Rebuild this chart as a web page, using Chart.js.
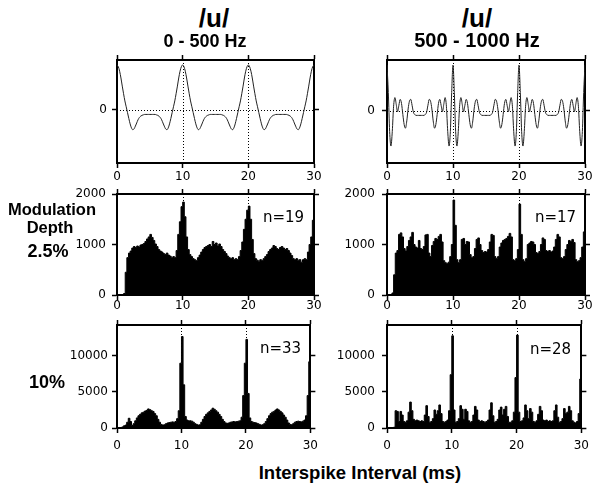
<!DOCTYPE html>
<html>
<head>
<meta charset="utf-8">
<script src="https://cdn.jsdelivr.net/npm/chart.js@4.4.1/dist/chart.umd.min.js"></script>
<style>
  html, body { margin: 0; padding: 0; background: #fff; }
  body { width: 600px; height: 488px; position: relative; overflow: hidden; font-family: "Liberation Sans", Arial, sans-serif; }
  canvas { position: absolute; }
  .t { position: absolute; white-space: nowrap; line-height: 1; color: #000; z-index: 2; }
  .b { font-weight: bold; }
  .c { transform: translateX(-50%); }
  .n { font-family: "DejaVu Sans", sans-serif; font-size: 15px; }
</style>
</head>
<body>
<canvas id="p1"></canvas>
<canvas id="p2"></canvas>
<canvas id="p3"></canvas>
<canvas id="p4"></canvas>
<canvas id="p5"></canvas>
<canvas id="p6"></canvas>

<div class="t b c" style="left:214px; top:5px; font-size:26px">/u/</div>
<div class="t b c" style="left:205px; top:32px; font-size:18px">0 - 500 Hz</div>
<div class="t b c" style="left:477px; top:5px; font-size:26px">/u/</div>
<div class="t b c" style="left:477px; top:30px; font-size:20px">500 - 1000 Hz</div>

<div class="t b c" style="left:52px; top:201px; font-size:16.5px">Modulation</div>
<div class="t b c" style="left:50px; top:219px; font-size:16.5px">Depth</div>
<div class="t b c" style="left:48px; top:242px; font-size:18px">2.5%</div>
<div class="t b c" style="left:47px; top:373px; font-size:18px">10%</div>

<div class="t n" style="left:263px; top:210px">n=19</div>
<div class="t n" style="left:535px; top:210px">n=17</div>
<div class="t n" style="left:260px; top:341px">n=33</div>
<div class="t n" style="left:530px; top:342px">n=28</div>

<div class="t b c" style="left:360px; top:464px; font-size:18.5px">Interspike Interval (ms)</div>

<script>
// tick labels
const xTickVals = [0, 10, 20, 30];
const waveTicks = [0];
const lowTicks = [0, 1000, 2000];
const highTicks = [0, 5000, 10000];

// autocorrelation waveforms, one value every 0.2 ms from 0 to 30 ms
const STEP = 0.2;
const wave0to500 = [
  1.0, 0.96, 0.86, 0.71, 0.53, 0.36, 0.2, 0.07, -0.06, -0.19, -0.31, -0.4, -0.44, -0.42, -0.36, -0.29, -0.22, -0.17, -0.14, -0.12, -0.11, -0.1, -0.1, -0.1, -0.1, -0.1,
  -0.1, -0.1, -0.1, -0.1, -0.11, -0.12, -0.14, -0.17, -0.22, -0.29, -0.36, -0.42, -0.44, -0.4, -0.31, -0.19, -0.06, 0.07, 0.2, 0.36, 0.53, 0.71, 0.86, 0.96, 1.0,
  0.96, 0.86, 0.71, 0.53, 0.36, 0.2, 0.07, -0.06, -0.19, -0.31, -0.4, -0.44, -0.42, -0.36, -0.29, -0.22, -0.17, -0.14, -0.12, -0.11, -0.1, -0.1, -0.1, -0.1, -0.1,
  -0.1, -0.1, -0.1, -0.1, -0.11, -0.12, -0.14, -0.17, -0.22, -0.29, -0.36, -0.42, -0.44, -0.4, -0.31, -0.19, -0.06, 0.07, 0.2, 0.36, 0.53, 0.71, 0.86, 0.96, 1.0,
  0.96, 0.86, 0.71, 0.53, 0.36, 0.2, 0.07, -0.06, -0.19, -0.31, -0.4, -0.44, -0.42, -0.36, -0.29, -0.22, -0.17, -0.14, -0.12, -0.11, -0.1, -0.1, -0.1, -0.1, -0.1,
  -0.1, -0.1, -0.1, -0.1, -0.11, -0.12, -0.14, -0.17, -0.22, -0.29, -0.36, -0.42, -0.44, -0.4, -0.31, -0.19, -0.06, 0.07, 0.2, 0.36, 0.53, 0.71, 0.86, 0.96, 1.0
];
const wave500to1000 = [
  1.0, 0.4, -0.45, -0.77, -0.45, 0.1, 0.29, 0.14, -0.02, 0.12, 0.25, 0.16, -0.08, -0.3, -0.38, -0.22, 0.04, 0.21, 0.25, 0.12, -0.03, -0.08, -0.1, -0.1, -0.1, -0.1,
  -0.1, -0.1, -0.1, -0.08, -0.03, 0.12, 0.25, 0.21, 0.04, -0.22, -0.38, -0.3, -0.08, 0.16, 0.25, 0.12, -0.02, 0.14, 0.29, 0.1, -0.45, -0.77, -0.45, 0.4, 1.0,
  0.4, -0.45, -0.77, -0.45, 0.1, 0.29, 0.14, -0.02, 0.12, 0.25, 0.16, -0.08, -0.3, -0.38, -0.22, 0.04, 0.21, 0.25, 0.12, -0.03, -0.08, -0.1, -0.1, -0.1, -0.1,
  -0.1, -0.1, -0.1, -0.08, -0.03, 0.12, 0.25, 0.21, 0.04, -0.22, -0.38, -0.3, -0.08, 0.16, 0.25, 0.12, -0.02, 0.14, 0.29, 0.1, -0.45, -0.77, -0.45, 0.4, 1.0,
  0.4, -0.45, -0.77, -0.45, 0.1, 0.29, 0.14, -0.02, 0.12, 0.25, 0.16, -0.08, -0.3, -0.38, -0.22, 0.04, 0.21, 0.25, 0.12, -0.03, -0.08, -0.1, -0.1, -0.1, -0.1,
  -0.1, -0.1, -0.1, -0.08, -0.03, 0.12, 0.25, 0.21, 0.04, -0.22, -0.38, -0.3, -0.08, 0.16, 0.25, 0.12, -0.02, 0.14, 0.29, 0.1, -0.45, -0.77, -0.45, 0.4, 1.0
];

// interspike interval histograms, 0.25 ms bins (one row = 2 ms)
const BIN = 0.25;
const isi25Low = [
  0, 0, 0, 0, 30, 450, 740, 830,
  870, 930, 960, 940, 970, 950, 990, 1000,
  1020, 1060, 1110, 1150, 1200, 1140, 1080, 1010,
  960, 900, 870, 850, 820, 800, 830, 790,
  770, 740, 760, 740, 880, 1200, 1450, 1750,
  1840, 1550, 1150, 900, 800, 760, 720, 700,
  680, 740, 790, 850, 900, 940, 960, 980,
  1000, 960, 1060, 1000, 1030, 970, 1010, 960,
  900, 860, 820, 770, 740, 720, 740, 700,
  720, 700, 760, 880, 1050, 1300, 1500, 1680,
  1760, 1500, 1100, 820, 720, 690, 670, 700,
  680, 720, 760, 800, 860, 900, 930, 980,
  960, 920, 900, 940, 960, 930, 900, 920,
  880, 830, 780, 720, 700, 720, 690, 700,
  650, 700, 720, 700, 850, 1000, 1150, 1480
];
const isi25High = [
  0, 0, 0, 40, 400, 830, 880, 1200,
  1230, 1150, 920, 870, 960, 1080, 1150, 1240,
  1000, 950, 930, 1080, 920, 900, 960, 1190,
  1200, 830, 760, 980, 1060, 1120, 1100, 1160,
  1200, 1050, 680, 640, 620, 650, 760, 1000,
  1880, 1380, 700, 640, 700, 1100, 1120, 1000,
  1060, 1050, 800, 740, 760, 920, 1100, 1130,
  1000, 880, 840, 860, 850, 900, 1050, 1200,
  1180, 760, 720, 760, 950, 1030, 1080, 1100,
  1120, 1160, 1220, 1150, 700, 680, 720, 900,
  1800, 1200, 700, 660, 720, 1000, 1030, 1060,
  1050, 1000, 840, 820, 860, 1000, 1130, 1100,
  880, 860, 880, 850, 870, 950, 1100, 1200,
  1150, 740, 720, 760, 900, 1000, 1080, 1060,
  1100, 1040, 700, 660, 680, 740, 950, 1250
];
const isi10Low = [
  0, 0, 50, 150, 300, 400, 800, 1350,
  900, 350, 600, 1000, 1400, 1700, 1900, 2100,
  2200, 2350, 2450, 2650, 2550, 2400, 2300, 2000,
  1700, 1200, 800, 500, 400, 450, 600, 700,
  750, 800, 850, 800, 900, 1300, 2400, 9000,
  12700, 6000, 1600, 1100, 1000, 1000, 950, 800,
  600, 500, 400, 450, 800, 1200, 1600, 1900,
  2100, 2300, 2500, 2750, 2600, 2400, 2200, 1900,
  1600, 1200, 900, 700, 650, 700, 800, 850,
  900, 850, 900, 950, 1000, 1500, 4500, 9000,
  12300, 4800, 1400, 900, 800, 750, 700, 600,
  500, 400, 450, 600, 900, 1300, 1700, 2000,
  2200, 2300, 2500, 2650, 2500, 2300, 2100, 1800,
  1500, 1100, 700, 500, 450, 600, 800, 900,
  950, 900, 850, 950, 1100, 1700, 4500, 9200
];
const isi10High = [
  0, 0, 0, 0, 100, 2400, 2300, 900,
  2300, 1800, 900, 800, 1000, 2200, 3600, 2400,
  1200, 1000, 1100, 1000, 900, 1000, 900, 1800,
  3100, 1600, 800, 900, 1300, 2500, 1900, 2400,
  3200, 2000, 900, 800, 900, 1100, 2400, 7400,
  12800, 2500, 800, 900, 1300, 3100, 2600, 1200,
  2600, 2300, 1000, 800, 900, 1800, 3000, 2500,
  1100, 900, 1000, 900, 800, 900, 1100, 2500,
  3500, 1700, 800, 900, 1200, 2500, 2900, 1800,
  2600, 3000, 1600, 800, 800, 1000, 2200, 7000,
  12900, 2200, 900, 1000, 1400, 3200, 2400, 1300,
  2700, 2200, 900, 800, 1000, 1900, 3000, 2400,
  1100, 1000, 1100, 900, 1000, 900, 1000, 2400,
  3200, 1500, 800, 900, 1300, 2700, 2000, 2200,
  3000, 2400, 1000, 800, 700, 900, 2000, 6800
];

const lagMs = wave0to500.map((_, i) => i * STEP);
// right edge of each bin; with stepped 'after' each count fills [edge - BIN, edge]
const binEdge = isi25Low.map((_, i) => (i + 1) * BIN);

// room around each plot box for the axes (top room also holds the y label overhang)
const YW = 55, RW = 10, TW = 18, BW = 26;

Chart.defaults.font.family = '"DejaVu Sans", sans-serif';
Chart.defaults.font.size = 12;
Chart.defaults.color = '#000';
Chart.defaults.animation = false;

const setTicks = (vals) => (s) => { s.ticks = vals.map((v) => ({ value: v })); };
const fixSize = (px) => (s) => { if (s.isHorizontal()) s.height = px; else s.width = px; };
const plain = (v) => String(v);

function frameScales(yMin, yMax, yTicks, xPad, yPad) {
  const grid = { drawOnChartArea: false, tickColor: '#000', tickLength: 5, tickWidth: 1.5, offset: false };
  const border = { color: '#000', width: 2 };
  return {
    x: { type: 'linear', min: 0, max: 30, offset: false, grid, border,
         afterBuildTicks: setTicks(xTickVals), afterFit: fixSize(BW),
         ticks: { padding: xPad, maxRotation: 0, autoSkip: false, callback: plain } },
    x2: { type: 'linear', position: 'top', min: 0, max: 30, offset: false, grid, border,
          afterBuildTicks: setTicks(xTickVals), afterFit: fixSize(TW), ticks: { display: false } },
    y: { type: 'linear', min: yMin, max: yMax, grid, border,
         afterBuildTicks: setTicks(yTicks), afterFit: fixSize(YW),
         ticks: { padding: yPad, autoSkip: false, callback: plain } },
    y2: { type: 'linear', position: 'right', min: yMin, max: yMax, grid, border,
          afterBuildTicks: setTicks(yTicks), afterFit: fixSize(RW), ticks: { display: false } }
  };
}

// dotted reference lines drawn through the scales
const dotted = {
  id: 'dotted',
  beforeDatasetsDraw(chart, args, opts) {
    const { ctx, chartArea: a } = chart;
    const x = chart.scales.x, y = chart.scales.y;
    ctx.save();
    ctx.strokeStyle = '#000';
    ctx.lineWidth = 1;
    ctx.setLineDash([1, 2]);
    (opts.xs || []).forEach((v) => {
      const px = Math.round(x.getPixelForValue(v)) + 0.5;
      ctx.beginPath(); ctx.moveTo(px, a.top); ctx.lineTo(px, a.bottom); ctx.stroke();
    });
    (opts.ys || []).forEach((v) => {
      const py = Math.round(y.getPixelForValue(v)) + 0.5;
      ctx.beginPath(); ctx.moveTo(a.left, py); ctx.lineTo(a.right, py); ctx.stroke();
    });
    ctx.restore();
  }
};

function panel(id, box, dataset, yMin, yMax, yTicks, xPad, yPad, lines) {
  const c = document.getElementById(id);
  c.width = box.r - box.l + YW + RW;
  c.height = box.b - box.t + TW + BW;
  c.style.left = (box.l - YW) + 'px';
  c.style.top = (box.t - TW) + 'px';
  new Chart(c, {
    type: 'line',
    data: { datasets: [dataset] },
    plugins: [dotted],
    options: {
      responsive: false,
      maintainAspectRatio: false,
      layout: { padding: 0 },
      events: [],
      scales: frameScales(yMin, yMax, yTicks, xPad, yPad),
      plugins: { legend: { display: false }, tooltip: { enabled: false }, dotted: lines }
    }
  });
}

const waveSet = (vals) => ({
  data: lagMs.map((t, i) => ({ x: t, y: vals[i] })),
  borderColor: '#222', borderWidth: 1, pointRadius: 0,
  cubicInterpolationMode: 'monotone', xAxisID: 'x', yAxisID: 'y'
});
// histogram drawn as a filled step outline, so the bins leave no gaps
const histSet = (vals) => ({
  data: binEdge.map((t, i) => ({ x: t, y: vals[i] })),
  stepped: 'after', fill: 'origin',
  backgroundColor: '#000', borderColor: '#000', borderWidth: 1, pointRadius: 0,
  xAxisID: 'x', yAxisID: 'y'
});

const leftCol = { l: 117, r: 314 }, rightCol = { l: 387, r: 585 };
const row1 = { t: 60, b: 163 }, row2 = { t: 194, b: 295 }, row3 = { t: 325, b: 428 };

panel('p1', { ...leftCol, ...row1 }, waveSet(wave0to500), -1.18, 1.11, waveTicks, 2, 5, { xs: [10, 20], ys: [0] });
panel('p2', { ...rightCol, ...row1 }, waveSet(wave500to1000), -1.14, 1.11, waveTicks, 2, 7, { xs: [10, 20], ys: [0] });
panel('p3', { ...leftCol, ...row2 }, histSet(isi25Low), 0, 2000, lowTicks, -1, 6, { xs: [10, 20] });
panel('p4', { ...rightCol, ...row2 }, histSet(isi25High), 0, 2000, lowTicks, -1, 7, { xs: [10, 20] });
panel('p5', { ...leftCol, ...row3 }, histSet(isi10Low), 0, 14300, highTicks, 6, 4, { xs: [10, 20] });
panel('p6', { ...rightCol, ...row3 }, histSet(isi10High), 0, 14300, highTicks, 6, 7, { xs: [10, 20] });
</script>
</body>
</html>
